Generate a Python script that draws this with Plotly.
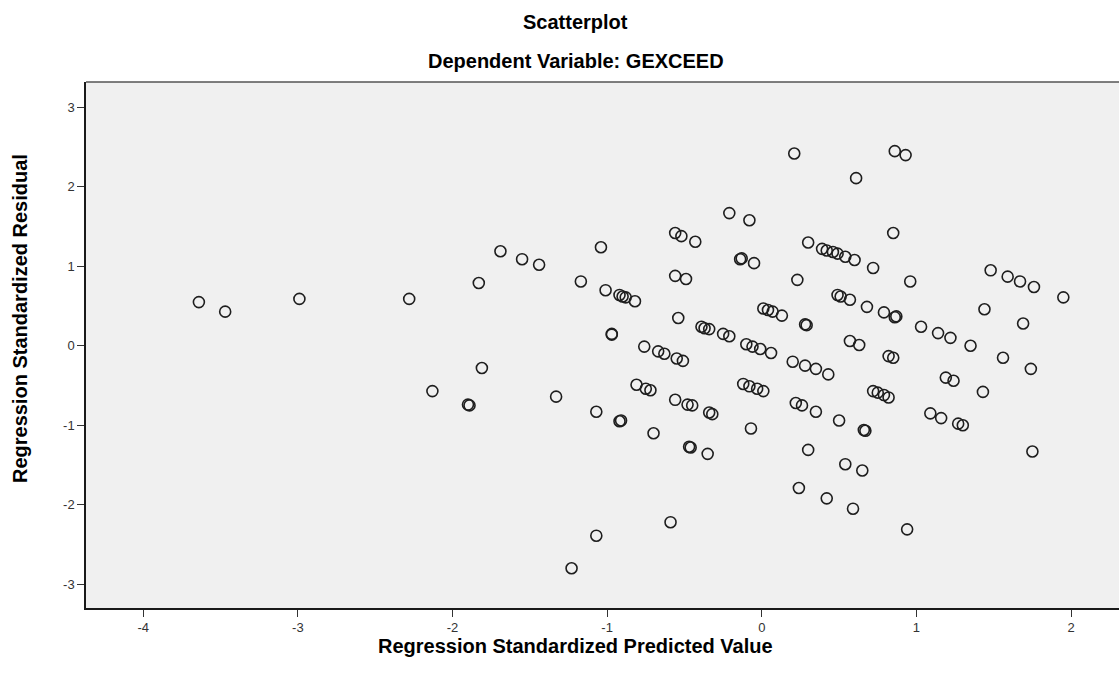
import plotly.graph_objects as go

# Regression Standardized Predicted Value (x) and Regression Standardized Residual (y)
predicted = [
    -3.64, -3.47, -2.99, -2.28, -2.13, -1.90, -1.89, -1.83, -1.81, -1.69,
    -1.55, -1.44, -1.33, -1.23, -1.17, -1.07, -1.07, -1.04, -1.01, -0.97,
    -0.97, -0.92, -0.90, -0.88, -0.91, -0.92, -0.82, -0.81, -0.76, -0.75,
    -0.72, -0.70, -0.67, -0.63, -0.59, -0.56, -0.52, -0.56, -0.49, -0.54,
    -0.55, -0.51, -0.56, -0.48, -0.45, -0.47, -0.46, -0.43, -0.39, -0.37,
    -0.34, -0.35, -0.34, -0.32, -0.25, -0.21, -0.21, -0.14, -0.13, -0.05,
    -0.08, -0.12, -0.08, -0.03, 0.01, -0.10, -0.06, -0.01, 0.06, -0.07,
    0.01, 0.04, 0.07, 0.13, 0.20, 0.28, 0.35, 0.43, 0.21, 0.22,
    0.26, 0.35, 0.23, 0.24, 0.28, 0.29, 0.30, 0.30, 0.39, 0.42,
    0.46, 0.49, 0.54, 0.60, 0.42, 0.49, 0.51, 0.57, 0.68, 0.50,
    0.54, 0.57, 0.63, 0.59, 0.61, 0.65, 0.66, 0.67, 0.72, 0.72,
    0.75, 0.79, 0.82, 0.79, 0.86, 0.87, 0.82, 0.85, 0.85, 0.86,
    0.93, 0.94, 0.96, 1.03, 1.09, 1.14, 1.16, 1.22, 1.19, 1.24,
    1.27, 1.30, 1.35, 1.43, 1.44, 1.48, 1.56, 1.59, 1.67, 1.69,
    1.74, 1.75, 1.76, 1.95,
]
residual = [
    0.55, 0.43, 0.59, 0.59, -0.57, -0.74, -0.75, 0.79, -0.28, 1.19,
    1.09, 1.02, -0.64, -2.80, 0.81, -0.83, -2.39, 1.24, 0.70, 0.15,
    0.14, 0.64, 0.62, 0.61, -0.94, -0.95, 0.56, -0.49, -0.01, -0.54,
    -0.56, -1.10, -0.07, -0.10, -2.22, 1.42, 1.38, 0.88, 0.84, 0.35,
    -0.16, -0.19, -0.68, -0.74, -0.75, -1.27, -1.28, 1.31, 0.24, 0.22,
    0.21, -1.36, -0.84, -0.86, 0.15, 0.12, 1.67, 1.09, 1.10, 1.04,
    1.58, -0.48, -0.51, -0.54, -0.57, 0.02, -0.01, -0.04, -0.09, -1.04,
    0.47, 0.45, 0.43, 0.38, -0.20, -0.25, -0.29, -0.36, 2.42, -0.72,
    -0.75, -0.83, 0.83, -1.79, 0.27, 0.26, 1.30, -1.31, 1.22, 1.20,
    1.18, 1.16, 1.12, 1.08, -1.92, 0.64, 0.62, 0.58, 0.49, -0.94,
    -1.49, 0.06, 0.01, -2.05, 2.11, -1.57, -1.06, -1.07, 0.98, -0.57,
    -0.59, -0.62, -0.65, 0.42, 0.36, 0.37, -0.13, -0.15, 1.42, 2.45,
    2.40, -2.31, 0.81, 0.24, -0.85, 0.16, -0.91, 0.10, -0.40, -0.44,
    -0.98, -1.00, 0.00, -0.58, 0.46, 0.95, -0.15, 0.87, 0.81, 0.28,
    -0.29, -1.33, 0.74, 0.61,
]

x_ticks = [-4, -3, -2, -1, 0, 1, 2]
y_ticks = [-3, -2, -1, 0, 1, 2, 3]

title_text = "Scatterplot"
subtitle_text = "Dependent Variable: GEXCEED"
x_title = "Regression Standardized Predicted Value"
y_title = "Regression Standardized Residual"

bold_font = dict(family="Liberation Sans, Arial, sans-serif", size=20, color="#000000")
tick_font = dict(family="Liberation Sans, Arial, sans-serif", size=13, color="#333333")

fig = go.Figure()
fig.add_trace(go.Scatter(
    x=predicted,
    y=residual,
    mode="markers",
    marker=dict(symbol="circle-open", size=11, color="#1e1e1e", line=dict(width=1.6)),
    showlegend=False,
    hoverinfo="x+y",
))

fig.update_layout(
    width=1119,
    height=676,
    margin=dict(l=86, r=0, t=82, b=68),
    paper_bgcolor="#FFFFFF",
    plot_bgcolor="#F0F0F0",
    font=tick_font,
    annotations=[
        dict(text=f"<b>{title_text}</b>", x=0.474, y=1.114, xref="paper", yref="paper",
             xanchor="center", yanchor="middle", showarrow=False, font=bold_font),
        dict(text=f"<b>{subtitle_text}</b>", x=0.474, y=1.04, xref="paper", yref="paper",
             xanchor="center", yanchor="middle", showarrow=False, font=bold_font),
        dict(text=f"<b>{x_title}</b>", x=0.474, y=-0.073, xref="paper", yref="paper",
             xanchor="center", yanchor="middle", showarrow=False, font=bold_font),
        dict(text=f"<b>{y_title}</b>", x=-0.064, y=0.551, xref="paper", yref="paper",
             xanchor="center", yanchor="middle", showarrow=False, textangle=-90, font=bold_font),
    ],
)

fig.update_xaxes(
    range=[-4.37, 2.31],
    tickvals=x_ticks,
    ticktext=[str(v) for v in x_ticks],
    ticks="outside", ticklen=7, tickwidth=1, tickcolor="#333333",
    showgrid=False, zeroline=False,
    showline=True, linecolor="#1a1a1a", linewidth=1.5, mirror=False,
    tickfont=tick_font,
)
fig.update_yaxes(
    range=[-3.30, 3.32],
    tickvals=y_ticks,
    ticktext=[str(v) for v in y_ticks],
    ticks="outside", ticklen=7, tickwidth=1, tickcolor="#333333",
    showgrid=False, zeroline=False,
    showline=True, linecolor="#1a1a1a", linewidth=1.5, mirror=False,
    tickfont=tick_font,
)

# top border of the plotting frame
fig.add_shape(type="line", xref="paper", yref="paper", x0=0, x1=1, y0=1, y1=1,
              line=dict(color="#555555", width=1.5))

fig.write_html("out.html")
